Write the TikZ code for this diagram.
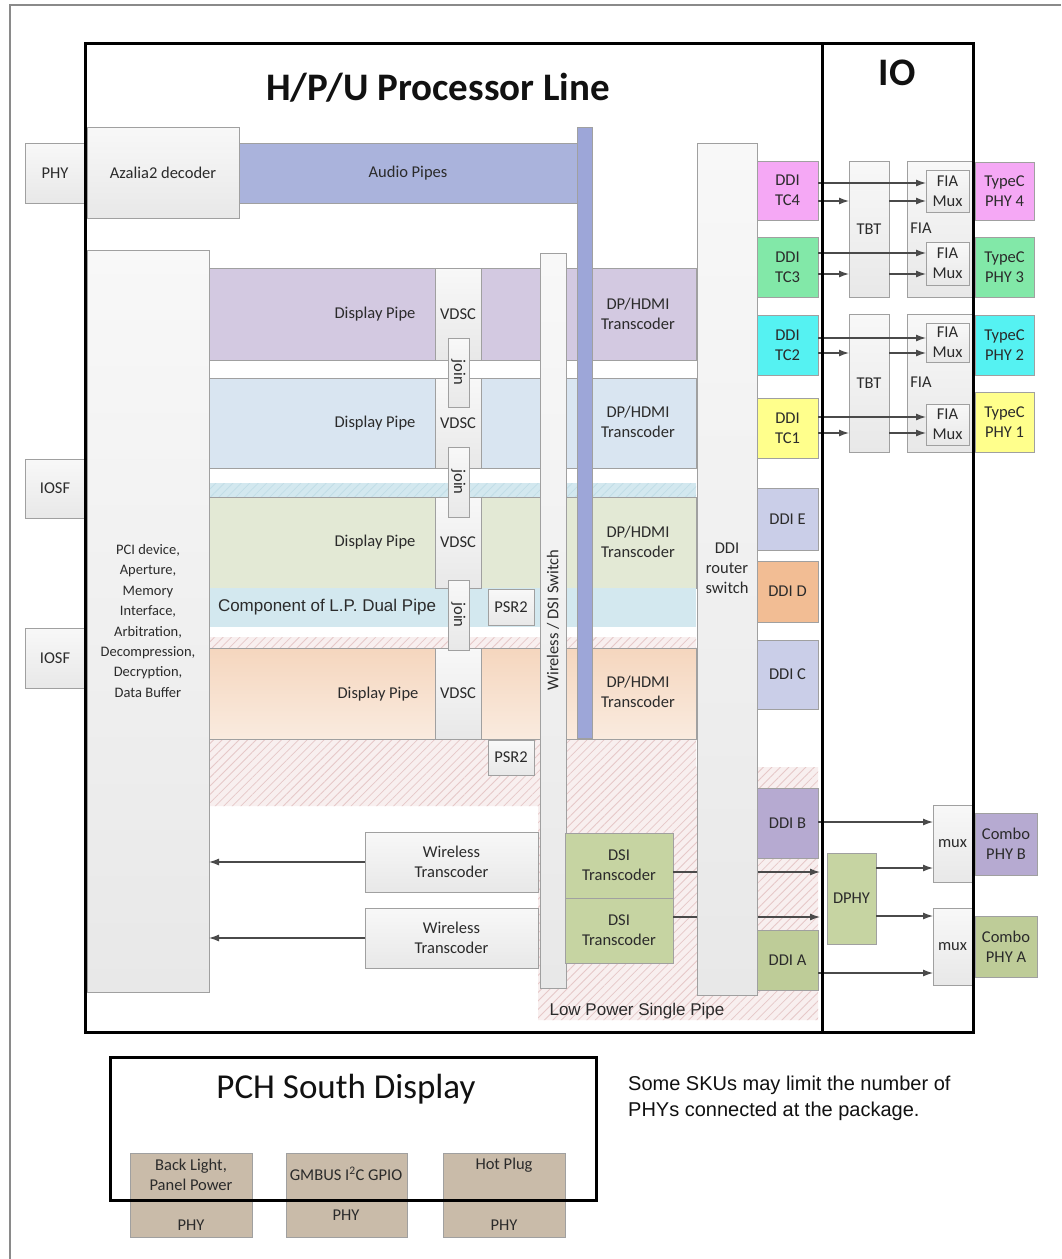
\documentclass[tikz,border=0pt]{standalone}
\usepackage{fontspec}
\setmainfont{Carlito}
\newfontfamily\arialf{Liberation Sans}
\usetikzlibrary{arrows.meta,patterns.meta}
\definecolor{cframe}{HTML}{8A8A8A}
\definecolor{cborder}{HTML}{A0A0A0}
\definecolor{ctext}{HTML}{2B2B2B}
\definecolor{cgtop}{HTML}{F8F8F8}
\definecolor{cgbot}{HTML}{E8E8E8}
\definecolor{caudio}{HTML}{AAB3DC}
\definecolor{cabar}{HTML}{9DA6D8}
\definecolor{crowA}{HTML}{D3C9E1}
\definecolor{crowB}{HTML}{D9E5F1}
\definecolor{crowC}{HTML}{E3E9D5}
\definecolor{clp}{HTML}{D3E8EF}
\definecolor{crowDtop}{HTML}{F5D6BE}
\definecolor{crowDbot}{HTML}{FAEBDF}
\definecolor{chbg}{HTML}{F8EFEF}
\definecolor{chline}{HTML}{E6C8C8}
\definecolor{clpline}{HTML}{C2DEE7}
\definecolor{ctcf}{HTML}{F5A8F5}
\definecolor{ctce}{HTML}{82E8A8}
\definecolor{ctcc}{HTML}{55F2F2}
\definecolor{ctcy}{HTML}{FFFF8C}
\definecolor{cddie}{HTML}{CACEE8}
\definecolor{cddid}{HTML}{F2BD94}
\definecolor{cddib}{HTML}{B6AAD1}
\definecolor{cddia}{HTML}{BECC98}
\definecolor{cdsi}{HTML}{C6D4A2}
\definecolor{ctan}{HTML}{C9BBA9}
\definecolor{carrow}{HTML}{4A4A4A}
\definecolor{ctitle}{HTML}{111111}
\newcommand{\fsn}{\fontsize{16.5}{20}\selectfont}
\newcommand{\mkbox}[7]{\node[#6, anchor=north west, inner sep=0pt, outer sep=0pt, minimum width={(#4)-(#2)}, minimum height={(#5)-(#3)}] (#1) at (#2,#3) {#7};}
\begin{document}
\begin{tikzpicture}[x=1pt,y=-1pt,
  gbox/.style={draw=cborder, line width=0.9pt, top color=cgtop, bottom color=cgbot, text=ctext, align=center, font=\fsn},
  cbox/.style={draw=cborder, line width=0.9pt, fill=#1, text=ctext, align=center, font=\fsn},
  lpbox/.style={fill=clp},
  rowd/.style={draw=cborder, line width=0.9pt, top color=crowDtop, bottom color=crowDbot},
  lbl/.style={text=ctext, align=center, font=\fsn, inner sep=0pt},
  albl/.style={text=ctext, align=center, font=\arialf\fontsize{17}{20}\selectfont, inner sep=0pt},
  arr/.style={draw=carrow, line width=1.2pt, -{Latex[length=10pt,width=7pt]}},
  frame/.style={draw=black, line width=3pt},
  hatchp/.style={pattern={Lines[angle=45,distance=6pt,line width=0.8pt]}, pattern color=#1}]
\useasboundingbox (0,0) rectangle (1061,1259);
\fill[white] (0,0) rectangle (1061,1259);
\draw[cframe, line width=1.5pt] (10,1259) -- (10,5) -- (1061,5);

% low power single pipe hatch
\fill[chbg] (209,739) -- (696,739) -- (696,767) -- (818,767) -- (818,1020) -- (538,1020) -- (538,806) -- (209,806) -- cycle;
\fill[hatchp=chline] (209,739) -- (696,739) -- (696,767) -- (818,767) -- (818,1020) -- (538,1020) -- (538,806) -- (209,806) -- cycle;
\fill[chbg] (209,637) rectangle (696,648);
\fill[hatchp=chline] (209,637) rectangle (696,648);
\fill[clp] (209,483) rectangle (696,497);
\fill[hatchp=clpline] (209,483) rectangle (696,497);

% rows
\mkbox{rowa}{209}{268}{696}{360}{cbox=crowA}{}
\mkbox{rowb}{209}{378}{696}{468}{cbox=crowB}{}
\mkbox{rowc}{209}{497}{696}{588}{cbox=crowC}{}
\mkbox{rowlp}{209}{588}{696}{627}{lpbox}{}
\mkbox{rowdd}{209}{648}{696}{739}{rowd}{}
\mkbox{vda}{435}{268}{481}{360}{gbox}{VDSC}
\mkbox{vdb}{435}{378}{481}{468}{gbox}{VDSC}
\mkbox{vdc}{435}{497}{481}{588}{gbox}{VDSC}
\mkbox{vdd}{435}{648}{481}{739}{gbox}{VDSC}
\node[lbl] (dpa) at (375,314) {Display Pipe};
\node[lbl] (dpb) at (375,423) {Display Pipe};
\node[lbl] (dpc) at (375,542) {Display Pipe};
\node[lbl] (dpd) at (378,694) {Display Pipe};
\node[lbl] (tra) at (638,314) {DP/HDMI\\Transcoder};
\node[lbl] (trb) at (638,422) {DP/HDMI\\Transcoder};
\node[lbl] (trc) at (638,542) {DP/HDMI\\Transcoder};
\node[lbl] (trd) at (638,692) {DP/HDMI\\Transcoder};
\node[albl] (lpt) at (327,607) {Component of L.P. Dual Pipe};

% joins and PSR2
\mkbox{ja}{448}{338}{469}{407}{gbox}{}
\mkbox{jb}{448}{447}{469}{517}{gbox}{}
\mkbox{jc}{448}{580}{469}{650}{gbox}{}
\node[lbl, rotate=-90] (jat) at (ja.center) {join};
\node[lbl, rotate=-90] (jbt) at (jb.center) {join};
\node[lbl, rotate=-90] (jct) at (jc.center) {join};
\mkbox{psra}{488}{589}{534}{625}{gbox}{PSR2}
\mkbox{psrb}{488}{740}{534}{775}{gbox}{PSR2}

% switch and audio
\mkbox{sw}{540}{253}{566}{988}{gbox}{}
\node[lbl, rotate=90] (swt) at (553,620) {Wireless / DSI Switch};
\mkbox{phya}{25}{143}{85}{203}{gbox}{PHY}
\mkbox{aza}{87}{127}{239}{218}{gbox}{Azalia2 decoder}
\mkbox{aud}{239}{143}{577}{203}{cbox=caudio}{Audio Pipes}
\mkbox{abar}{577}{127}{592}{738}{cbox=cabar}{}

% PCI and IOSF
\mkbox{pci}{87}{250}{209}{992}{gbox, font=\fontsize{14.5}{20.4}\selectfont}{PCI device,\\Aperture,\\Memory\\Interface,\\Arbitration,\\Decompression,\\Decryption,\\Data Buffer}
\mkbox{iosfa}{25}{459}{85}{518}{gbox}{IOSF}
\mkbox{iosfb}{25}{628}{85}{688}{gbox}{IOSF}

% wireless and DSI
\mkbox{wta}{365}{832}{538}{892}{gbox}{Wireless\\Transcoder}
\mkbox{wtb}{365}{908}{538}{968}{gbox}{Wireless\\Transcoder}
\mkbox{dsia}{565}{833}{673}{898}{cbox=cdsi}{DSI\\Transcoder}
\mkbox{dsib}{565}{898}{673}{963}{cbox=cdsi}{DSI\\Transcoder}
\draw[arr] (wta.west) -- (wta.west -| pci.east);
\draw[arr] (wtb.west) -- (wtb.west -| pci.east);
\node[albl] (lpsp) at (637,1011) {Low Power Single Pipe};

% IO bottom boxes (before arrows that pass under router)
\mkbox{dphy}{827}{853}{876}{944}{cbox=cdsi}{DPHY}
\draw[arr, shorten >=7pt] (dsia.east |- 0,872) -- (dphy.west |- 0,872);
\draw[arr, shorten >=7pt] (dsib.east |- 0,917) -- (dphy.west |- 0,917);

% router and DDI column
\mkbox{rt}{697}{143}{757}{995}{gbox}{}
\node[lbl] (rtt) at (727,568) {DDI\\router\\switch};
\mkbox{tc4}{757}{161}{818}{220}{cbox=ctcf}{DDI\\TC4}
\mkbox{tc3}{757}{237}{818}{297}{cbox=ctce}{DDI\\TC3}
\mkbox{tc2}{757}{315}{818}{375}{cbox=ctcc}{DDI\\TC2}
\mkbox{tc1}{757}{398}{818}{458}{cbox=ctcy}{DDI\\TC1}
\mkbox{ddie}{757}{488}{818}{550}{cbox=cddie}{DDI E}
\mkbox{ddid}{757}{561}{818}{622}{cbox=cddid}{DDI D}
\mkbox{ddic}{757}{640}{818}{709}{cbox=cddie}{DDI C}
\mkbox{ddib}{757}{788}{818}{858}{cbox=cddib}{DDI B}
\mkbox{ddia}{757}{930}{818}{990}{cbox=cddia}{DDI A}

% IO top
\mkbox{tbta}{849}{161}{889}{297}{gbox}{TBT}
\mkbox{tbtb}{849}{314}{889}{452}{gbox}{TBT}
\mkbox{fiaa}{907}{161}{972}{297}{gbox}{}
\mkbox{fiab}{907}{314}{972}{452}{gbox}{}
\node[lbl] (fiaat) at (921,228) {FIA};
\node[lbl] (fiabt) at (921,382) {FIA};
\mkbox{mux4}{926}{170}{969}{212}{gbox}{FIA\\Mux}
\mkbox{mux3}{926}{242}{969}{285}{gbox}{FIA\\Mux}
\mkbox{mux2}{926}{323}{969}{362}{gbox}{FIA\\Mux}
\mkbox{mux1}{926}{404}{969}{445}{gbox}{FIA\\Mux}
\mkbox{pc4}{975}{162}{1034}{220}{cbox=ctcf}{TypeC\\PHY 4}
\mkbox{pc3}{975}{237}{1034}{297}{cbox=ctce}{TypeC\\PHY 3}
\mkbox{pc2}{975}{315}{1034}{375}{cbox=ctcc}{TypeC\\PHY 2}
\mkbox{pc1}{975}{392}{1034}{452}{cbox=ctcy}{TypeC\\PHY 1}
\draw[arr] (tc4.east |- 0,183) -- (mux4.west |- 0,183);
\draw[arr] (tc4.east |- 0,201) -- (tbta.west |- 0,201);
\draw[arr] (tbta.east |- 0,201) -- (mux4.west |- 0,201);
\draw[arr] (tc3.east |- 0,253) -- (mux3.west |- 0,253);
\draw[arr] (tc3.east |- 0,274) -- (tbta.west |- 0,274);
\draw[arr] (tbta.east |- 0,274) -- (mux3.west |- 0,274);
\draw[arr] (tc2.east |- 0,338) -- (mux2.west |- 0,338);
\draw[arr] (tc2.east |- 0,353) -- (tbtb.west |- 0,353);
\draw[arr] (tbtb.east |- 0,353) -- (mux2.west |- 0,353);
\draw[arr] (tc1.east |- 0,417) -- (mux1.west |- 0,417);
\draw[arr] (tc1.east |- 0,433) -- (tbtb.west |- 0,433);
\draw[arr] (tbtb.east |- 0,433) -- (mux1.west |- 0,433);

% IO bottom
\mkbox{muxb}{933}{805}{972}{882}{gbox}{mux}
\mkbox{muxa}{933}{908}{972}{985}{gbox}{mux}
\mkbox{cpb}{975}{813}{1037}{875}{cbox=cddib}{Combo\\PHY B}
\mkbox{cpa}{975}{916}{1037}{977}{cbox=cddia}{Combo\\PHY A}
\draw[arr] (ddib.east |- 0,822) -- (muxb.west |- 0,822);
\draw[arr] (dphy.east |- 0,868) -- (muxb.west |- 0,868);
\draw[arr] (dphy.east |- 0,916) -- (muxa.west |- 0,916);
\draw[arr] (ddia.east |- 0,973) -- (muxa.west |- 0,973);

% main outlines
\mkbox{main}{85}{43}{822}{1032}{frame}{}
\mkbox{io}{822}{43}{973}{1032}{frame}{}
\node[text=ctitle, font=\bfseries\fontsize{39}{44}\selectfont, inner sep=0pt] (title) at (438,88) {H/P/U Processor Line};
\node[text=ctitle, font=\bfseries\fontsize{39}{44}\selectfont, inner sep=0pt] (iot) at (897,73) {IO};

% PCH
\mkbox{bl}{130}{1153}{252}{1237}{cbox=ctan}{}
\mkbox{gm}{286}{1153}{407}{1237}{cbox=ctan}{}
\mkbox{hp}{443}{1153}{565}{1237}{cbox=ctan}{}
\node[lbl] (blt) at (191,1175) {Back Light,\\Panel Power};
\node[lbl] (blp) at (191,1225) {PHY};
\node[lbl] (gmt) at (346,1174) {GMBUS I\textsuperscript{2}C GPIO};
\node[lbl] (gmp) at (346,1215) {PHY};
\node[lbl] (hpt) at (504,1165) {Hot Plug};
\node[lbl] (hpp) at (504,1225) {PHY};
\mkbox{pch}{110}{1057}{596}{1200}{frame}{}
\node[text=ctitle, font=\fontsize{35}{40}\selectfont, inner sep=0pt] (pcht) at (346,1089) {PCH South Display};
\node[anchor=west, align=left, text=ctitle, inner sep=0pt, font=\arialf\fontsize{20}{26}\selectfont] (note) at (628,1098) {Some SKUs may limit the number of\\PHYs connected at the package.};
\end{tikzpicture}
\end{document}
